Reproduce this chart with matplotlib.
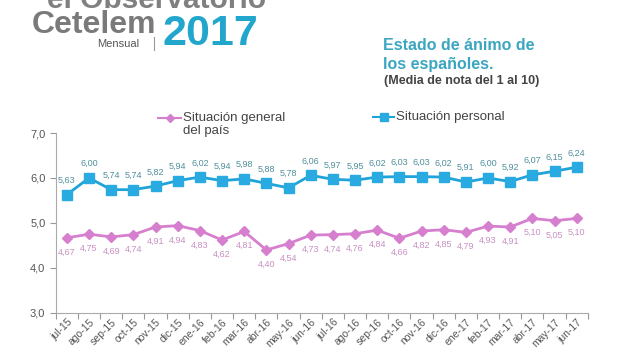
import matplotlib
matplotlib.use("Agg")
import matplotlib.pyplot as plt
from matplotlib.lines import Line2D

plt.rcParams["font.family"] = ["Liberation Sans", "DejaVu Sans"]

months = ["jul-15", "ago-15", "sep-15", "oct-15", "nov-15", "dic-15",
          "ene-16", "feb-16", "mar-16", "abr-16", "may-16", "jun-16",
          "jul-16", "ago-16", "sep-16", "oct-16", "nov-16", "dic-16",
          "ene-17", "feb-17", "mar-17", "abr-17", "may-17", "jun-17"]
general = [4.67, 4.75, 4.69, 4.74, 4.91, 4.94, 4.83, 4.62, 4.81, 4.40, 4.54, 4.73,
           4.74, 4.76, 4.84, 4.66, 4.82, 4.85, 4.79, 4.93, 4.91, 5.10, 5.05, 5.10]
personal = [5.63, 6.00, 5.74, 5.74, 5.82, 5.94, 6.02, 5.94, 5.98, 5.88, 5.78, 6.06,
            5.97, 5.95, 6.02, 6.03, 6.03, 6.02, 5.91, 6.00, 5.92, 6.07, 6.15, 6.24]
yticks = [3.0, 4.0, 5.0, 6.0, 7.0]

BLUE = "#1fa3d8"
PINK = "#d77fcf"
BLUE_TXT = "#4f8f9c"
PINK_TXT = "#c890c3"

W, H = 620, 350


def fx(px):
    return px / W


def fy(py):
    return 1 - py / H


fig = plt.figure(figsize=(6.2, 3.5), dpi=100)
ax = fig.add_axes([0.090, 0.106, 0.858, 0.514])

x = list(range(len(months)))
ax.plot(x, personal, color=BLUE, lw=2, marker="s", ms=7.5, mfc="#29abe2", mec="#29abe2")
ax.plot(x, general, color=PINK, lw=2, marker="D", ms=5.5, mfc=PINK, mec=PINK)

for i, v in enumerate(personal):
    ax.annotate(f"{v:.2f}".replace(".", ","), (i, v), xytext=(0, 7), textcoords="offset points",
                ha="center", va="bottom", fontsize=6.5, color=BLUE_TXT)
for i, v in enumerate(general):
    ax.annotate(f"{v:.2f}".replace(".", ","), (i, v), xytext=(0, -7), textcoords="offset points",
                ha="center", va="top", fontsize=6.5, color=PINK_TXT)

ax.set_xlim(-0.5, len(months) - 0.5)
ax.set_ylim(3, 7)
ax.set_yticks(yticks)
ax.set_yticklabels([f"{t:.1f}".replace(".", ",") for t in yticks], fontsize=8, color="#555555")
ax.set_xticks([i - 0.5 for i in range(len(months) + 1)])
ax.set_xticklabels([])
ax.set_xticks(x, minor=True)
ax.set_xticklabels(months, minor=True, rotation=45, ha="right", rotation_mode="anchor",
                   fontsize=7.5, color="#555555")
ax.tick_params(axis="x", which="minor", length=0, pad=3)
ax.tick_params(axis="x", which="major", length=4, color="#999999", direction="out")
ax.tick_params(axis="y", length=4, color="#999999")
for s in ["top", "right"]:
    ax.spines[s].set_visible(False)
for s in ["left", "bottom"]:
    ax.spines[s].set_color("#aaaaaa")

# legend
fig.add_artist(Line2D([fx(158), fx(181)], [fy(118)] * 2, color=PINK, lw=1.5))
fig.add_artist(Line2D([fx(169.5)], [fy(118)], color=PINK, marker="D", ms=4, lw=0))
fig.text(fx(183), fy(118), "Situación general", fontsize=9.5, color="#444444",
         va="center", ha="left")
fig.text(fx(183), fy(131.5), "del país", fontsize=9.5, color="#444444",
         va="center", ha="left")
fig.add_artist(Line2D([fx(373), fx(394)], [fy(117)] * 2, color=BLUE, lw=1.5))
fig.add_artist(Line2D([fx(383.5)], [fy(117)], color="#29abe2", marker="s", ms=5.5, lw=0))
fig.text(fx(396), fy(117), "Situación personal", fontsize=9.5, color="#444444",
         va="center", ha="left")

# header logo
fig.text(fx(47), fy(0), "el Observatorio", fontsize=21.5, fontweight="bold",
         color="#808080", va="center", ha="left")
fig.text(fx(32), fy(25), "Cetelem", fontsize=23, fontweight="bold",
         color="#7a7a7a", va="center", ha="left")
fig.text(fx(97), fy(44), "Mensual", fontsize=8, color="#555555", va="center", ha="left")
fig.add_artist(Line2D([fx(154)] * 2, [fy(37), fy(50)], color="#999999", lw=0.8))
fig.text(fx(163), fy(34), "2017", fontsize=31, fontweight="bold",
         color="#22a6cc", va="center", ha="left")

# title
fig.text(fx(383), fy(45), "Estado de ánimo de", fontsize=11.5,
         fontweight="bold", color="#3aa6c0", va="center", ha="left")
fig.text(fx(383), fy(64), "los españoles.", fontsize=11.5,
         fontweight="bold", color="#3aa6c0", va="center", ha="left")
fig.text(fx(384), fy(81), "(Media de nota del 1 al 10)", fontsize=9,
         fontweight="bold", color="#444444", va="center", ha="left")

fig.savefig("out.png", dpi=100, facecolor="white")
